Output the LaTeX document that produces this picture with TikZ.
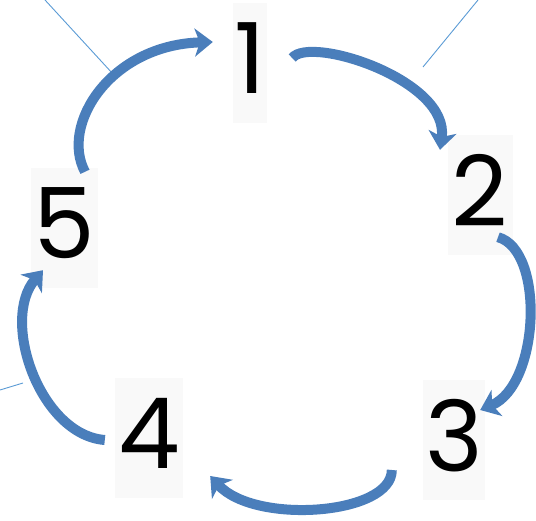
\documentclass[tikz,border=0pt]{standalone}
\usepackage{fontspec}
\setmainfont{Poppins}
\usetikzlibrary{arrows.meta}
\definecolor{flowblue}{RGB}{74,126,187}
\definecolor{lineblue}{RGB}{91,155,213}
\definecolor{boxgray}{RGB}{249,249,249}

\begin{document}
\begin{tikzpicture}[x=1pt,y=-1pt,
num/.style={fill=boxgray,inner sep=0pt,minimum height=120pt,minimum width=66pt,text depth=10pt,font=\fontsize{98}{98}\selectfont},
flow/.style={-{Stealth[length=18pt,width=28pt,inset=5pt]},line width=10pt,draw=flowblue},
thin/.style={draw=lineblue,line width=.9pt}]
\useasboundingbox(0,0)rectangle(536,521);

% stray leader lines
\coordinate (tla) at (45,0); \coordinate (tlb) at (113,74);
\coordinate (tra) at (478,0); \coordinate (trb) at (423,67);
\coordinate (lfa) at (0,390); \coordinate (lfb) at (23,383);
\draw[thin](tla)--(tlb);
\draw[thin](tra)--(trb);
\draw[thin](lfa)--(lfb);

% the five steps
\node[num,minimum width=34pt] (n1) at (250,63) {1};
\node[num,minimum width=65pt] (n2) at (480,195) {2};
\node[num,minimum width=62pt] (n3) at (454,440) {3};
\node[num,minimum width=68pt] (n4) at (149,438) {4};
\node[num,minimum width=67pt] (n5) at (64,228) {5};

% cycle
\draw[flow]([xshift=21pt,yshift=-4pt]n5.north) .. controls (60,125) and (110,45) .. ([xshift=-20pt,yshift=21pt]n1.west);
\draw[flow]([xshift=25pt,yshift=5pt]n1.east) .. controls (310,35) and (450,80) .. ([xshift=-40pt,yshift=-15pt]n2.north);
\draw[flow]([xshift=18pt,yshift=18pt]n2.south) .. controls (545,250) and (540,385) .. ([xshift=-5pt,yshift=30pt]n3.east);
\draw[flow]([xshift=-31pt,yshift=-30pt]n3.west) .. controls (392,515) and (255,525) .. ([xshift=27pt,yshift=-38pt]n4.east);
\draw[flow]([xshift=-10pt,yshift=-2pt]n4.west) .. controls (40,435) and (0,320) .. ([xshift=-21pt,yshift=18pt]n5.south);
\end{tikzpicture}
\end{document}
